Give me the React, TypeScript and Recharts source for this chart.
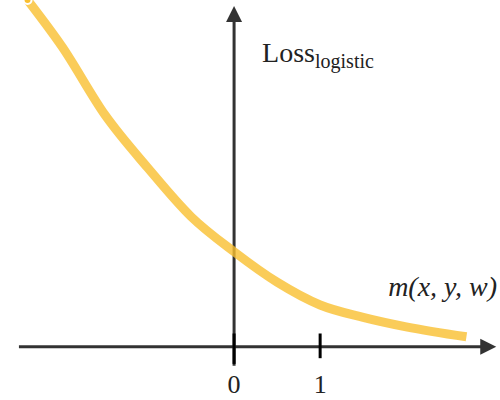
import React from 'react';
import { LineChart, Line, XAxis, YAxis, ReferenceLine, ReferenceDot } from 'recharts';

const margins = [-2.4, -2, -1.5, -1, -0.5, 0, 0.5, 1, 1.5, 2, 2.7];
const losses = [3.65, 3.16, 2.44, 1.88, 1.37, 1.0, 0.68, 0.44, 0.31, 0.21, 0.105];
const xTicks = ['0', '1'];

const data = margins.map((m, i) => ({ m, loss: losses[i] }));
const AX = '#333';
const SERIF = '"Liberation Serif", "DejaVu Serif", serif';

export default function App() {
  return (
    <div style={{ position: 'absolute', left: 0, top: 0, width: 500, height: 400, background: '#fff', fontFamily: SERIF }}>
      <LineChart width={500} height={400} data={data} margin={{ top: 0, right: 0, bottom: 0, left: 0 }}>
        <XAxis dataKey="m" type="number" domain={[-2.72, 3.09]} hide />
        <YAxis type="number" domain={[-0.56, 3.65]} hide allowDataOverflow />
        <ReferenceLine segment={[{ x: -2.5, y: 0 }, { x: 2.93, y: 0 }]} stroke={AX} strokeWidth={3} />
        <ReferenceLine segment={[{ x: 0, y: -0.2 }, { x: 0, y: 3.45 }]} stroke={AX} strokeWidth={3} />
        <ReferenceLine segment={[{ x: 0, y: -0.18 }, { x: 0, y: 0.14 }]} stroke="#000" strokeWidth={3} />
        <ReferenceLine segment={[{ x: 1, y: -0.12 }, { x: 1, y: 0.14 }]} stroke="#000" strokeWidth={3} />
        <ReferenceDot x={0} y={3.65} r={0} shape={(p: any) => (
          <path d={`M${p.cx - 8},${p.cy + 22} L${p.cx},${p.cy + 6} L${p.cx + 8},${p.cy + 22} Z`} fill={AX} />
        )} />
        <ReferenceDot x={2.93} y={0} r={0} shape={(p: any) => (
          <path d={`M${p.cx - 6},${p.cy - 8} L${p.cx + 10},${p.cy} L${p.cx - 6},${p.cy + 8} Z`} fill={AX} />
        )} />
        {[0, 1].map((v, i) => (
          <ReferenceDot key={v} x={v} y={0} r={0} shape={(p: any) => (
            <text x={p.cx} y={p.cy + 46} textAnchor="middle" fontSize={26} fill="#222" style={{ fontFamily: SERIF }}>{xTicks[i]}</text>
          )} />
        ))}
        <ReferenceDot x={0} y={3.0} r={0} shape={(p: any) => (
          <text x={p.cx + 28} y={p.cy + 0} fontSize={28} fill="#222" style={{ fontFamily: SERIF }}>
            Loss<tspan fontSize={20} dy={6}>logistic</tspan>
          </text>
        )} />
        <ReferenceDot x={3.09} y={0.5} r={0} shape={(p: any) => (
          <text x={p.cx - 3} y={p.cy - 3} textAnchor="end" fontSize={28} fontStyle="italic" fill="#222" style={{ fontFamily: SERIF }}>
            m(x, y, w)
          </text>
        )} />
        <Line dataKey="loss" type="monotone" stroke="#f9bf30" strokeOpacity={0.8} strokeWidth={9} dot={false} isAnimationActive={false} />
      </LineChart>
    </div>
  );
}
